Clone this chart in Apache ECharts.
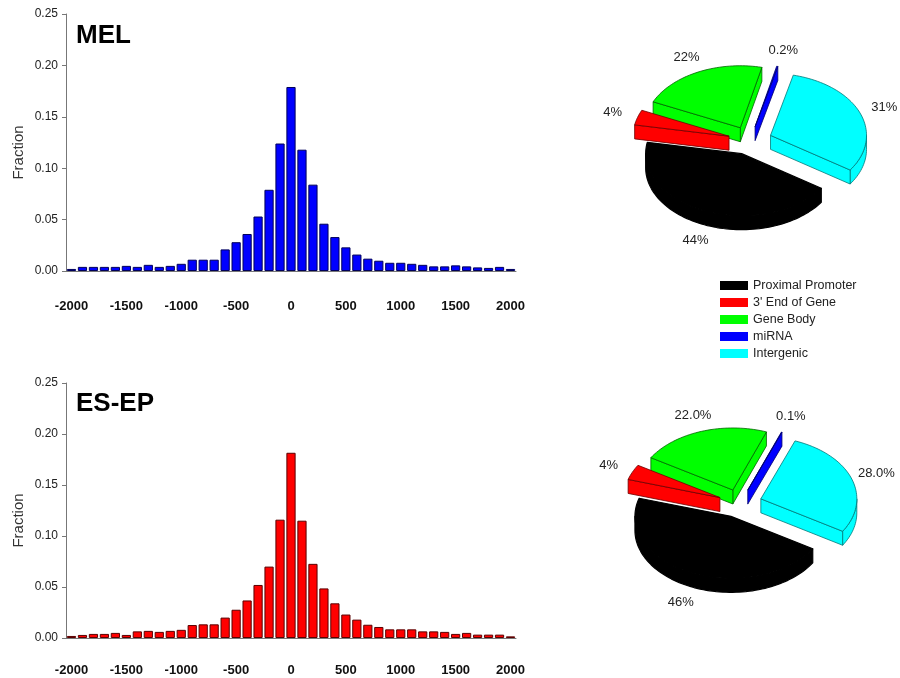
<!DOCTYPE html>
<html>
<head>
<meta charset="utf-8">
<script src="https://cdn.jsdelivr.net/npm/echarts@6/dist/echarts.min.js"></script>
<style>html,body{margin:0;padding:0;background:#fff}#c{width:900px;height:678px}</style>
</head>
<body>
<div id="c"></div>
<script>
// ---- data ----
const binLabels = ['-2000','-1900','-1800','-1700','-1600','-1500','-1400','-1300','-1200','-1100',
  '-1000','-900','-800','-700','-600','-500','-400','-300','-200','-100',
  '0','100','200','300','400','500','600','700','800','900',
  '1000','1100','1200','1300','1400','1500','1600','1700','1800','1900','2000'];
const melFraction = [0.002,0.004,0.004,0.004,0.004,0.005,0.004,0.006,0.004,0.005,
  0.007,0.011,0.011,0.011,0.021,0.028,0.036,0.053,0.079,0.124,
  0.179,0.118,0.084,0.046,0.033,0.023,0.016,0.012,0.010,0.008,
  0.008,0.007,0.006,0.0045,0.0045,0.0055,0.0045,0.0035,0.003,0.004,0.002];
const esFraction = [0.002,0.003,0.004,0.004,0.005,0.003,0.0065,0.007,0.006,0.007,
  0.008,0.0127,0.0134,0.0134,0.020,0.0277,0.0368,0.052,0.070,0.116,
  0.1816,0.115,0.0727,0.0486,0.034,0.023,0.018,0.013,0.0108,0.0085,
  0.0085,0.0085,0.0065,0.0065,0.006,0.004,0.005,0.0033,0.0033,0.0033,0.0016];
const yTicks = [0, 0.05, 0.10, 0.15, 0.20, 0.25];
const categories = ['Proximal Promoter', "3' End of Gene", 'Gene Body', 'miRNA', 'Intergenic'];
const melPie = [44, 4, 22, 0.2, 31];
const esPie = [46, 4, 22.0, 0.1, 28.0];
const melPieLabels = ['44%', '4%', '22%', '0.2%', '31%'];
const esPieLabels = ['46%', '4%', '22.0%', '0.1%', '28.0%'];
const panelTitles = ['MEL', 'ES-EP'];

// ---- styling / layout ----
const FONT = '"Liberation Sans", Arial, Helvetica, sans-serif';
const sliceFill = ['#000000', '#ff0000', '#00ff00', '#0000ff', '#00ffff'];
const sliceStroke = ['#000000', '#6b0000', '#006600', '#00006b', '#007878'];
const ringOrder = [0, 4, 3, 2, 1]; // counter-clockwise order around the pie
const PIES = [
  {cx: 750, cy: 140.5, start: 169.5, values: melPie, labels: melPieLabels},
  {cx: 740, cy: 503.4, start: 163, values: esPie, labels: esPieLabels}
];
const RX = 96, RY = 62, DEPTH = 14, EXPLODE = 22;
const rad = d => d * Math.PI / 180;

function sliceAngles(p) {
  const sum = p.values.reduce((a, b) => a + b, 0);
  let a = p.start;
  const res = {};
  ringOrder.forEach(k => {
    const span = p.values[k] / sum * 360;
    res[k] = [a, a + span];
    a += span;
  });
  return res;
}
function pt(c, th, dz) {
  return [c[0] + RX * Math.cos(rad(th)), c[1] - RY * Math.sin(rad(th)) + dz];
}
function arc(c, t1, t2, dz) {
  const n = Math.max(2, Math.ceil(Math.abs(t2 - t1) / 2));
  const out = [];
  for (let i = 0; i <= n; i++) out.push(pt(c, t1 + (t2 - t1) * i / n, dz));
  return out;
}
function makeRender(k) {
  return function (params, api) {
    const p = PIES[params.dataIndex];
    const [a1, a2] = sliceAngles(p)[k];
    const mid = (a1 + a2) / 2;
    const c = [p.cx + EXPLODE * Math.cos(rad(mid)), p.cy - EXPLODE * (RY / RX) * Math.sin(rad(mid))];
    const apexB = [c[0], c[1] + DEPTH];
    const z2 = 10 + Math.round((1 - Math.sin(rad(mid))) * 50);
    const style = {fill: sliceFill[k], stroke: sliceStroke[k], lineWidth: k === 0 ? 1.2 : 0.8, lineJoin: 'round'};
    const children = [];
    for (const j of [-1, 0, 1]) {
      const lo = Math.max(a1, 180 + 360 * j), hi = Math.min(a2, 360 + 360 * j);
      if (hi > lo) children.push({type: 'polygon', z2, shape: {points: arc(c, lo, hi, 0).concat(arc(c, hi, lo, DEPTH))}, style});
    }
    if (Math.cos(rad(a1)) > 0) children.push({type: 'polygon', z2, shape: {points: [c, pt(c, a1, 0), pt(c, a1, DEPTH), apexB]}, style});
    if (Math.cos(rad(a2)) < 0) children.push({type: 'polygon', z2, shape: {points: [c, pt(c, a2, 0), pt(c, a2, DEPTH), apexB]}, style});
    children.push({type: 'polygon', z2, shape: {points: [c].concat(arc(c, a1, a2, 0))}, style});
    const s = Math.sin(rad(mid));
    children.push({type: 'text', z2: 200, style: {
      text: p.labels[k],
      x: p.cx + 1.5 * RX * Math.cos(rad(mid)),
      y: p.cy - 1.5 * RY * s + (s < 0 ? DEPTH : 0),
      align: 'center', verticalAlign: 'middle',
      fontSize: 13, fontFamily: FONT, fill: '#222'
    }});
    return {type: 'group', children};
  };
}

const axisGray = '#777';
const grids = [{left: 66, top: 14, width: 450, height: 257}, {left: 66, top: 383, width: 450, height: 255}];
const labelMargins = [29, 26];
const option = {
  animation: false,
  backgroundColor: '#fff',
  textStyle: {fontFamily: FONT},
  title: [
    {text: panelTitles[0], left: 76, top: 23, padding: 0, textStyle: {fontSize: 26, fontWeight: 'bold', color: '#000', fontFamily: FONT}},
    {text: panelTitles[1], left: 76, top: 391, padding: 0, textStyle: {fontSize: 26, fontWeight: 'bold', color: '#000', fontFamily: FONT}}
  ],
  legend: {
    data: categories, orient: 'vertical', left: 720, top: 279, padding: 0,
    itemWidth: 28, itemHeight: 9, itemGap: 4, icon: 'rect', selectedMode: false,
    textStyle: {fontSize: 12.5, lineHeight: 12, color: '#222', fontFamily: FONT}
  },
  grid: grids,
  xAxis: [0, 1].map(i => ({
    type: 'category', gridIndex: i, data: binLabels,
    axisLine: {lineStyle: {color: axisGray, width: 1}},
    axisTick: {alignWithLabel: true, interval: 4, length: 5, lineStyle: {color: axisGray}},
    axisLabel: {interval: 4, margin: labelMargins[i], fontWeight: 'bold', fontSize: 13, color: '#111', fontFamily: FONT}
  })),
  yAxis: [0, 1].map(i => ({
    type: 'value', gridIndex: i, min: yTicks[0], max: yTicks[yTicks.length - 1], interval: 0.05,
    name: 'Fraction', nameLocation: 'middle', nameGap: 40,
    nameTextStyle: {fontSize: 15, color: '#333', fontFamily: FONT, padding: [0, 20, 0, 0]},
    axisLine: {show: true, lineStyle: {color: axisGray}},
    axisTick: {show: true, length: 4, lineStyle: {color: axisGray}},
    splitLine: {show: false},
    axisLabel: {formatter: v => v.toFixed(2), fontSize: 12, color: '#222', margin: 8, fontFamily: FONT}
  })),
  series: [
    {type: 'bar', xAxisIndex: 0, yAxisIndex: 0, data: melFraction, barWidth: '84%',
      itemStyle: {color: '#0000ff', borderColor: '#00005a', borderWidth: 1}},
    {type: 'bar', xAxisIndex: 1, yAxisIndex: 1, data: esFraction, barWidth: '84%',
      itemStyle: {color: '#ff0000', borderColor: '#5a0000', borderWidth: 1}}
  ].concat(categories.map((name, k) => ({
    type: 'custom', name, coordinateSystem: 'none',
    itemStyle: {color: sliceFill[k]},
    data: [melPie[k], esPie[k]],
    renderItem: makeRender(k)
  })))
};
const chart = echarts.init(document.getElementById('c'), null, {renderer: 'canvas'});
chart.setOption(option);
</script>
</body>
</html>
